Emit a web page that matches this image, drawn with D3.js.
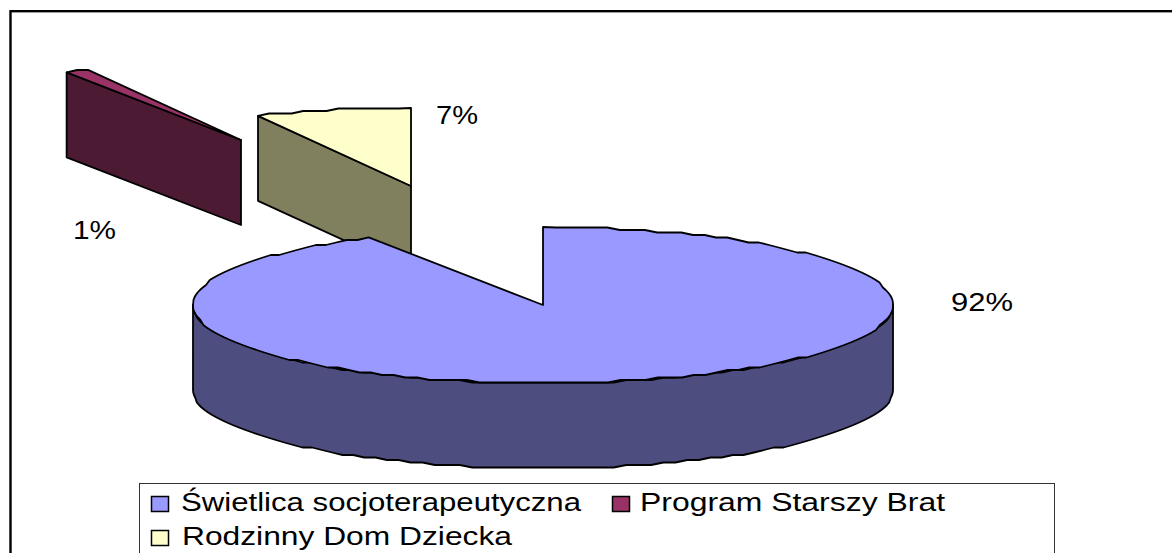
<!DOCTYPE html>
<html><head><meta charset="utf-8">
<script src="https://cdnjs.cloudflare.com/ajax/libs/d3/7.8.5/d3.min.js"></script>
<style>html,body{margin:0;padding:0;background:#fff;overflow:hidden}svg{display:block}text{font-family:"Liberation Sans",Arial,sans-serif;fill:#000}</style>
</head><body><script>
const categories = ["Świetlica socjoterapeutyczna", "Program Starszy Brat", "Rodzinny Dom Dziecka"];
const values = [91.7, 1.1, 7.2];
const labels = ["92%", "1%", "7%"];
const topColors = ["#9999ff", "#993366", "#ffffcc"];
const sideColors = ["#4d4d80", "#4c1a33", "#80805f"];
const W = 1172, H = 553;
const svg = d3.select("body").append("svg").attr("width", W).attr("height", H);
const rx = 350, ry = 78, depth = 85;
const centres = [[543,305],[241,140],[411,186]];
const labelPos = [[951,311,62],[73,239,43],[436,124,42]];
const legendSwatch = [[151,496],[612,496],[151,530]];
const legendText = [[181,511,400],[640,511,305],[182,545,330]];
const arcs = d3.pie().sort(null).value(d=>d)(values);
const sx = d3.scaleLinear().domain([-1,1]).range([-rx,rx]);
const sy = d3.scaleLinear().domain([-1,1]).range([-ry,ry]);
const snap = v => Math.round(v/2.5)*2.5;
const rim = (a0,a1,c,dy=0) => {
  const n = Math.max(2, Math.ceil((a1-a0)/(Math.PI*2)*170));
  return d3.range(n+1).map(i=>{
    const t = a0+(a1-a0)*i/n;
    const end = i===0||i===n;
    const x = c[0]+sx(Math.sin(t)), y = sy(-Math.cos(t));
    return end?[x,c[1]+y+dy]:[x, c[1]+dy+snap(y)];
  });
};
const line = d3.line();
svg.append("rect").attr("x",10.5).attr("y",11.2).attr("width",1300).attr("height",700).attr("fill","#fff").attr("stroke","#000").attr("stroke-width",2.4);
[1,2,0].forEach(i=>{
  const a = arcs[i], c = centres[i];
  const g = svg.append("g").attr("stroke","#000").attr("stroke-width",1.8).attr("stroke-linejoin","round");
  if(i===0){
    const a0 = Math.PI/2, a1 = Math.PI*3/2;
    const f = rim(a0,a1,c), b = rim(a0,a1,c,depth).reverse();
    g.append("path").attr("d",line(f.concat(b))+"Z").attr("fill",sideColors[i]);
  } else {
    const p = rim(a.startAngle,a.startAngle+1e-6,c)[0];
    const side = [[c[0],c[1]],[p[0],p[1]],[p[0],p[1]+depth],[c[0],c[1]+depth]];
    g.append("path").attr("d",line(side)+"Z").attr("fill",sideColors[i]);
  }
  g.append("path").attr("d",line([c,...rim(a.startAngle,a.endAngle,c)])+"Z").attr("fill",topColors[i]);
});
const stretched = (x,y,fs,len,t)=>svg.append("text").attr("x",x).attr("y",y).attr("font-size",fs).attr("textLength",len).attr("lengthAdjust","spacingAndGlyphs").text(t);
labels.forEach((t,i)=>stretched(labelPos[i][0],labelPos[i][1],25,labelPos[i][2],t));
svg.append("rect").attr("x",139.5).attr("y",483.5).attr("width",915).attr("height",120).attr("fill","#fff").attr("stroke","#333").attr("stroke-width",1);
categories.forEach((t,i)=>{
  svg.append("rect").attr("x",legendSwatch[i][0]+0.5).attr("y",legendSwatch[i][1]+0.5).attr("width",17).attr("height",15).attr("fill",topColors[i]).attr("stroke","#000").attr("stroke-width",1.5);
  stretched(legendText[i][0],legendText[i][1],25,legendText[i][2],t);
});
</script></body></html>
